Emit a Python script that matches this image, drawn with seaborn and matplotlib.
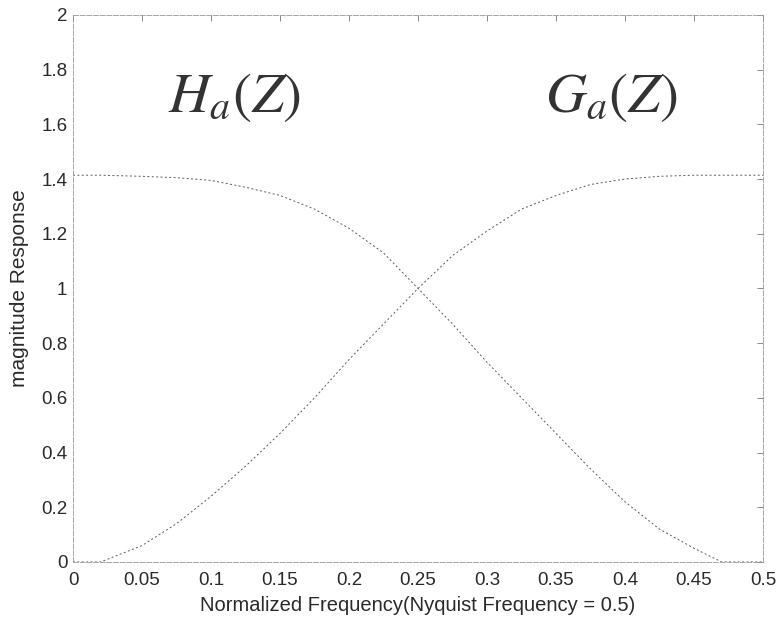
import numpy as np
import pandas as pd
import matplotlib
matplotlib.use("Agg")
import matplotlib.pyplot as plt
from matplotlib.ticker import FuncFormatter
import seaborn as sns

# normalized frequency samples
freq = [0.0, 0.02, 0.05, 0.075, 0.1, 0.125, 0.15, 0.175, 0.2, 0.225, 0.25,
        0.275, 0.3, 0.325, 0.35, 0.375, 0.4, 0.425, 0.45, 0.47, 0.48, 0.5]
# lowpass H_a(Z)
h_mag = [1.414, 1.414, 1.41, 1.405, 1.395, 1.37, 1.34, 1.29, 1.22, 1.13, 1.0,
         0.87, 0.73, 0.6, 0.47, 0.34, 0.22, 0.12, 0.05, 0.0, 0.0, 0.0]
# highpass G_a(Z)
g_mag = [0.0, 0.0, 0.06, 0.14, 0.24, 0.35, 0.47, 0.6, 0.74, 0.87, 1.0,
         1.12, 1.21, 1.29, 1.34, 1.38, 1.40, 1.41, 1.414, 1.414, 1.414, 1.414]

x_ticks = [0, 0.05, 0.1, 0.15, 0.2, 0.25, 0.3, 0.35, 0.4, 0.45, 0.5]
y_ticks = [0, 0.2, 0.4, 0.6, 0.8, 1, 1.2, 1.4, 1.6, 1.8, 2]

df = pd.DataFrame({
    "freq": freq * 2,
    "mag": h_mag + g_mag,
    "filt": ["H"] * len(freq) + ["G"] * len(freq),
})

sns.set_style("white")
plt.rcParams["font.family"] = ["Liberation Sans", "DejaVu Sans"]
plt.rcParams["mathtext.fontset"] = "stix"

fig = plt.figure(figsize=(7.82, 6.23), dpi=100)
ax = fig.add_axes([0.0934, 0.098, 0.8823, 0.878])

sns.lineplot(data=df, x="freq", y="mag", hue="filt", palette=["#5a5a5a", "#5a5a5a"],
             linewidth=0.7, linestyle=(0, (2, 2.5)), legend=False, ax=ax)

ax.set_xlim(0, 0.5)
ax.set_ylim(0, 2)
ax.set_xticks(x_ticks)
ax.set_yticks(y_ticks)
ax.xaxis.set_major_formatter(FuncFormatter(lambda v, p: f"{v:g}"))
ax.yaxis.set_major_formatter(FuncFormatter(lambda v, p: f"{v:g}"))
ax.tick_params(direction="in", length=4, width=0.6, color="#777777",
               top=True, right=True, labelsize=13.5, labelcolor="#2a2a2a", pad=4)
ax.tick_params(axis="x", pad=7)
for s in ax.spines.values():
    s.set_visible(True)
    s.set_color("#999999")
    s.set_linewidth(0.6)
    s.set_linestyle((0, (6, 2)))

ax.set_xlabel("Normalized Frequency(Nyquist Frequency = 0.5)", fontsize=14.5,
              color="#2a2a2a", labelpad=5)
ax.set_ylabel("magnitude Response", fontsize=15, color="#2a2a2a", labelpad=9)

ax.text(0.117, 1.70, r"$H_a(Z)$", fontsize=41, ha="center", va="center", color="#333333")
ax.text(0.39, 1.70, r"$G_a(Z)$", fontsize=41, ha="center", va="center", color="#333333")

fig.savefig("out.png", dpi=100)
